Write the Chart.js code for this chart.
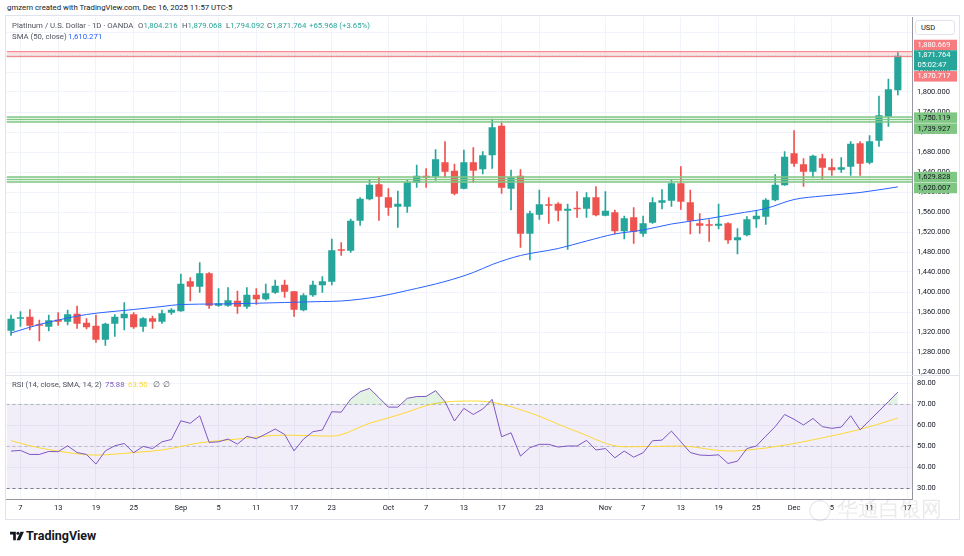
<!DOCTYPE html>
<html>
<head>
<meta charset="utf-8">
<title>Platinum / U.S. Dollar - 1D</title>
<script src="https://cdn.jsdelivr.net/npm/chart.js@4.4.1/dist/chart.umd.min.js"></script>
<style>
  html, body { margin: 0; padding: 0; background: #fff; }
  body { width: 964px; height: 556px; position: relative; overflow: hidden;
         font-family: Roboto, "Liberation Sans", Arial, sans-serif; color: #131722; }
  .abs { position: absolute; white-space: nowrap; line-height: 10px; }
  .lg { font-size: 7.8px; color: #50535e; }
  .up { color: #26a69a; }
  #frame { position: absolute; left: 5px; top: 15px; width: 955px; height: 505px;
           border: 1px solid #e0e3eb; box-sizing: border-box; }
  #sep { position: absolute; left: 5px; top: 375px; width: 955px; height: 1px; background: #e0e3eb; }
  #priceWrap { position: absolute; left: 0; top: 17px; width: 964px; height: 359px; }
  #rsiWrap { position: absolute; left: 0; top: 376px; width: 964px; height: 143px; }
  #usd { position: absolute; left: 915px; top: 20px; width: 40px; height: 15px; box-sizing: border-box;
         border: 1px solid #e0e3eb; border-radius: 3px; background: #fff; font-size: 7.5px;
         line-height: 13px; padding-left: 5px; color: #131722; }
  #logo { position: absolute; left: 10px; top: 529px; font-size: 12.5px; font-weight: bold; line-height: 14px; }
  #mark { position: absolute; left: 808px; top: 497px; color: rgba(140,140,140,0.18); font-size: 21px; line-height: 24px; }
</style>
</head>
<body>
<div id="frame"></div>
<div id="priceWrap"><canvas id="price"></canvas></div>
<div id="rsiWrap"><canvas id="rsi"></canvas></div>
<div id="sep"></div>

<div class="abs" style="left:7px; top:3px; font-size:7.8px;">gmzern created with TradingView.com, Dec 16, 2025 11:57 UTC-5</div>

<div class="abs lg" style="left:12px; top:21px;">Platinum / U.S. Dollar · 1D · OANDA</div>
<div class="abs lg" style="left:138px; top:21px;">O<span class="up">1,804.216</span></div>
<div class="abs lg" style="left:182px; top:21px;">H<span class="up">1,879.068</span></div>
<div class="abs lg" style="left:226px; top:21px;">L<span class="up">1,794.092</span></div>
<div class="abs lg" style="left:267px; top:21px;">C<span class="up">1,871.764</span></div>
<div class="abs lg up" style="left:309px; top:21px;">+65.968 (+3.65%)</div>
<div class="abs lg" style="left:12px; top:32px;">SMA (50, close)</div>
<div class="abs lg" style="left:68px; top:32px; color:#2962ff;">1,610.271</div>

<div class="abs lg" style="left:12px; top:380px;">RSI (14, close, SMA, 14, 2)</div>
<div class="abs lg" style="left:105px; top:380px; color:#7e57c2;">75.88</div>
<div class="abs lg" style="left:128px; top:380px; color:#fdd835;">63.50</div>
<div class="abs lg" style="left:153px; top:380px;">∅</div>
<div class="abs lg" style="left:163px; top:380px;">∅</div>

<div id="usd">USD</div>

<div id="logo">
  <svg width="14" height="10" viewBox="0 0 36 26" style="vertical-align:-1px; margin-right:2px;">
    <path d="M0 2h15v22H8V9H0z" fill="#131722"/>
    <circle cx="20.5" cy="6" r="4" fill="#131722"/>
    <path d="M27 2h9l-10 22h-9z" fill="#131722"/>
  </svg>TradingView
</div>
<div id="mark">◯ 华通白银网</div>

<script>
// trading days, 6 Aug - 16 Dec 2025
var dates = [
    'Aug 6', 'Aug 7', 'Aug 8', 'Aug 11', 'Aug 12', 'Aug 13', 'Aug 14', 'Aug 15', 'Aug 18', 'Aug 19',
    'Aug 20', 'Aug 21', 'Aug 22', 'Aug 25', 'Aug 26', 'Aug 27', 'Aug 28', 'Aug 29',
    'Sep 1', 'Sep 2', 'Sep 3', 'Sep 4', 'Sep 5', 'Sep 8', 'Sep 9', 'Sep 10', 'Sep 11', 'Sep 12',
    'Sep 15', 'Sep 16', 'Sep 17', 'Sep 18', 'Sep 19', 'Sep 22', 'Sep 23', 'Sep 24', 'Sep 25', 'Sep 26',
    'Sep 29', 'Sep 30',
    'Oct 1', 'Oct 2', 'Oct 3', 'Oct 6', 'Oct 7', 'Oct 8', 'Oct 9', 'Oct 10', 'Oct 13', 'Oct 14',
    'Oct 15', 'Oct 16', 'Oct 17', 'Oct 20', 'Oct 21', 'Oct 22', 'Oct 23', 'Oct 24', 'Oct 27', 'Oct 28',
    'Oct 29', 'Oct 30', 'Oct 31',
    'Nov 3', 'Nov 4', 'Nov 5', 'Nov 6', 'Nov 7', 'Nov 10', 'Nov 11', 'Nov 12', 'Nov 13', 'Nov 14',
    'Nov 17', 'Nov 18', 'Nov 19', 'Nov 20', 'Nov 21', 'Nov 24', 'Nov 25', 'Nov 26', 'Nov 27', 'Nov 28',
    'Dec 1', 'Dec 2', 'Dec 3', 'Dec 4', 'Dec 5', 'Dec 8', 'Dec 9', 'Dec 10', 'Dec 11', 'Dec 12',
    'Dec 15', 'Dec 16'
];

var opens = [
    1323, 1347, 1350, 1335, 1331, 1344, 1341, 1356, 1338, 1332, 1305, 1337, 1348, 1355, 1331, 1347, 1341, 1359,
    1362, 1421, 1411, 1437, 1373, 1373, 1382, 1371, 1394, 1386, 1399, 1414, 1401, 1364, 1394, 1414, 1421, 1485,
    1483, 1543, 1586, 1615,
    1589, 1571, 1571, 1619, 1632, 1631, 1659, 1642, 1607, 1659, 1646, 1674, 1732, 1607, 1632, 1517, 1555, 1575,
    1576, 1563, 1568, 1567, 1589,
    1553, 1559, 1522, 1549, 1517, 1539, 1579, 1583, 1617, 1579, 1537, 1534, 1533, 1537, 1504, 1514, 1546, 1551,
    1584, 1614,
    1677, 1655, 1641, 1667, 1649, 1645, 1651, 1697, 1659, 1703, 1751, 1804.216
];
var highs = [
    1354, 1361, 1365, 1344, 1354, 1359, 1364, 1372, 1347, 1354, 1338, 1355, 1379, 1359, 1349, 1352, 1364, 1367,
    1436, 1429, 1459, 1439, 1407, 1409, 1402, 1409, 1407, 1416, 1424, 1424, 1401, 1397, 1422, 1431, 1506, 1499,
    1546, 1589, 1625, 1629,
    1607, 1602, 1625, 1654, 1647, 1685, 1701, 1656, 1684, 1689, 1681, 1746, 1739, 1644, 1645, 1562, 1604, 1589,
    1579, 1576, 1601, 1599, 1611,
    1601, 1564, 1552, 1569, 1552, 1589, 1605, 1625, 1651, 1604, 1557, 1545, 1576, 1539, 1527, 1551, 1563, 1587,
    1635, 1681,
    1723, 1667, 1674, 1676, 1666, 1669, 1701, 1701, 1713, 1792, 1826, 1879.068
];
var lows = [
    1313, 1331, 1324, 1302, 1322, 1333, 1334, 1327, 1326, 1299, 1293, 1311, 1324, 1327, 1321, 1327, 1337, 1355,
    1361, 1382, 1399, 1367, 1371, 1371, 1357, 1367, 1375, 1384, 1397, 1389, 1351, 1362, 1391, 1399, 1414, 1473,
    1479, 1533, 1584, 1543,
    1553, 1529, 1559, 1609, 1609, 1623, 1629, 1594, 1606, 1619, 1636, 1647, 1597, 1564, 1489, 1464, 1545, 1537,
    1542, 1485, 1549, 1549, 1552,
    1552, 1516, 1506, 1497, 1511, 1537, 1566, 1571, 1565, 1516, 1517, 1501, 1526, 1497, 1476, 1512, 1529, 1535,
    1582, 1613,
    1651, 1611, 1629, 1625, 1633, 1639, 1633, 1633, 1656, 1691, 1731, 1794.092
];
var closes = [
    1346, 1349, 1333, 1333, 1343, 1341, 1355, 1337, 1330, 1305, 1336, 1350, 1356, 1330, 1347, 1341, 1357, 1364,
    1416, 1411, 1437, 1373, 1377, 1383, 1371, 1394, 1386, 1397, 1412, 1401, 1365, 1393, 1414, 1421, 1483, 1483,
    1542, 1586, 1614, 1591,
    1569, 1576, 1619, 1632, 1629, 1665, 1641, 1597, 1659, 1643, 1673, 1729, 1609, 1629, 1517, 1557, 1575, 1573,
    1563, 1566, 1566, 1589, 1554,
    1562, 1522, 1547, 1521, 1537, 1579, 1583, 1617, 1581, 1543, 1533, 1533, 1536, 1504, 1509, 1545, 1552, 1584,
    1614, 1670,
    1657, 1641, 1672, 1649, 1644, 1649, 1696, 1657, 1701, 1753, 1805, 1871.764
];

// SMA(50) at a few bars
var smaIdx = [0, 3, 5, 8, 13, 16, 18, 22, 29, 33, 35, 39, 42, 46, 49, 51, 54, 58, 61, 64, 67, 70, 74, 77, 80, 83, 86, 90, 94];
var smaVal = [1318, 1335, 1344, 1355, 1365, 1371, 1375, 1376, 1379, 1381, 1382, 1391, 1403, 1421, 1439, 1455, 1473,
    1487, 1502, 1516, 1524, 1536, 1547, 1557, 1567, 1585, 1592, 1599, 1610.271];

var rsi = [
    47.8, 48.1, 46.2, 46.2, 47.6, 47.5, 50.3, 47.1, 46.2, 41.6, 47.9, 50.3, 51.4, 47.0, 50.0, 49.0, 52.2, 53.3,
    62.2, 61.0, 64.6, 51.9, 52.2, 53.5, 51.1, 54.8, 53.7, 55.9, 58.3, 55.7, 47.9, 53.5, 57.0, 57.8, 66.5, 66.3,
    72.5, 76.0, 77.6, 73.2,
    68.7, 68.7, 72.9, 73.7, 73.8, 76.5, 71.3, 62.1, 68.1, 65.2, 67.8, 72.4, 54.6, 56.5, 45.4, 49.4, 51.0, 51.0,
    49.7, 50.2, 50.2, 52.9, 48.3,
    49.0, 44.6, 47.8, 44.9, 47.0, 52.7, 53.0, 57.3, 52.2, 47.1, 45.9, 45.7, 46.0, 41.9, 43.0, 49.0, 50.2, 54.9,
    59.4, 65.2,
    62.9, 60.2, 63.3, 59.4, 58.6, 59.2, 64.6, 57.9, 62.4, 66.8, 71.3, 75.88
];
var rsiMaIdx = [0, 2, 6, 9, 13, 16, 20, 24, 29, 34, 38, 41, 45, 49, 51, 55, 60, 65, 71, 76, 79, 83, 86, 90, 94];
var rsiMaVal = [52.8, 50.3, 47.1, 45.9, 47.1, 48.3, 51.7, 53.5, 55.4, 54.9, 61.0, 64.9, 70.5, 71.6, 71.0, 66.0,
    57.0, 49.8, 50.2, 47.8, 48.7, 51.4, 54.1, 58.1, 63.5];

// drawn zones (top / bottom of each box)
var zoneHigh = [1880.669, 1750.119, 1629.828];
var zoneLow = [1870.717, 1739.927, 1620.007];
var lastPrice = 1871.764;
var countdown = '05:02:47';

var priceTicks = [1240, 1280, 1320, 1360, 1400, 1440, 1480, 1520, 1560, 1600, 1640, 1680, 1720, 1760, 1800, 1840, 1880, 1920];
var rsiTicks = [30, 40, 50, 60, 70, 80];
var xTickIdx = [1, 5, 9, 13, 18, 22, 26, 30, 34, 40, 44, 48, 52, 56, 63, 67, 71, 75, 79, 83, 87, 91, 95];
var xTickText = ['7', '13', '19', '25', 'Sep', '5', '11', '17', '23', 'Oct', '7', '13', '17', '23',
    'Nov', '7', '13', '19', '25', 'Dec', '5', '11', '17'];

var UP = '#26a69a', DOWN = '#ef5350';
var FONT = 'Roboto, "Liberation Sans", Arial, sans-serif';
var xMin = -0.48, xMax = 95.5;
var gridColor = '#f0f3fa', axisColor = '#9598a1';

function fmt3(v) {
    return Number(v).toLocaleString('en-US', {minimumFractionDigits: 3, maximumFractionDigits: 3});
}

function flatLine(val, color, width, dash, fill, bg, order) {
    return {
        type: 'line',
        data: [{x: xMin, y: val}, {x: xMax, y: val}],
        borderColor: color,
        borderWidth: width,
        borderDash: dash || [],
        pointRadius: 0,
        fill: fill || false,
        backgroundColor: bg || 'transparent',
        order: order
    };
}

var candleColors = opens.map(function (o, i) { return closes[i] >= o ? UP : DOWN; });

var wickSet = {
    type: 'bar',
    data: opens.map(function (o, i) { return {x: i, y: [lows[i], highs[i]]}; }),
    backgroundColor: candleColors,
    barThickness: 1,
    grouped: false,
    order: 3
};
var bodySet = {
    type: 'bar',
    data: opens.map(function (o, i) { return {x: i, y: [Math.min(o, closes[i]), Math.max(o, closes[i])]}; }),
    backgroundColor: candleColors,
    barThickness: 6.5,
    minBarLength: 1,
    grouped: false,
    order: 2
};
var smaSet = {
    type: 'line',
    data: smaIdx.map(function (x, k) { return {x: x, y: smaVal[k]}; }),
    borderColor: '#2962ff',
    borderWidth: 1,
    pointRadius: 0,
    cubicInterpolationMode: 'monotone',
    fill: false,
    order: 1
};

var zoneSets = [];
zoneHigh.forEach(function (hi, k) {
    var red = k === 0;
    var line = red ? '#f77c80' : '#81c784';
    var bg = red ? 'rgba(247,124,128,0.22)' : 'rgba(129,199,132,0.22)';
    zoneSets.push(flatLine(hi, line, red ? 1 : 1.5, null, '+1', bg, 0));
    zoneSets.push(flatLine(zoneLow[k], line, red ? 1 : 1.5, null, false, null, 0));
    if (!red) {
        zoneSets.push(flatLine((hi + zoneLow[k]) / 2, line, 1, null, false, null, 0));
    }
});
zoneSets.push(flatLine(lastPrice, UP, 1, [1, 2], false, null, 0));

// pixel nudges so the axis badges do not overlap (as TradingView stacks them)
var highShift = [-6.7, 0.7, 0];
var lowShift = [19.7, 6.6, 6];

var badgePlugin = {
    id: 'badges',
    afterDraw: function (chart) {
        var ctx = chart.ctx, ys = chart.scales.y;
        var left = chart.chartArea.right + 2, w = 43, h = 10.5;
        ctx.save();
        ctx.font = '7.5px ' + FONT;
        ctx.textBaseline = 'middle';
        ctx.textAlign = 'left';

        function badge(val, shift, lines, bg, fg) {
            var cy = ys.getPixelForValue(val) + shift;
            var top = cy - h / 2;
            ctx.fillStyle = bg;
            ctx.fillRect(left, top, w, h * lines.length - (lines.length - 1) * 0.8);
            ctx.fillStyle = fg;
            lines.forEach(function (t, n) { ctx.fillText(t, left + 3.5, cy + n * (h - 0.8)); });
        }

        for (var k = zoneHigh.length - 1; k >= 0; k--) {
            var red = k === 0;
            var bg = red ? '#f77c80' : '#81c784';
            var fg = red ? '#ffffff' : '#131722';
            badge(zoneHigh[k], highShift[k], [fmt3(zoneHigh[k])], bg, fg);
            badge(zoneLow[k], lowShift[k], [fmt3(zoneLow[k])], bg, fg);
        }
        badge(lastPrice, -0.6, [fmt3(lastPrice), countdown], UP, '#ffffff');
        ctx.restore();
    }
};

function yAxis(min, max, ticks, fmt) {
    return {
        position: 'right',
        min: min,
        max: max,
        grid: {color: gridColor, drawTicks: false},
        border: {color: axisColor},
        ticks: {padding: 5, color: '#131722', font: {size: 7.5, family: FONT}, callback: fmt},
        afterBuildTicks: function (s) { s.ticks = ticks.map(function (v) { return {value: v}; }); },
        afterFit: function (s) { s.width = 52; s.paddingTop = 0; s.paddingBottom = 0; }
    };
}

function xAxis(showLabels) {
    return {
        type: 'linear',
        min: xMin,
        max: xMax,
        offset: false,
        grid: {color: gridColor, offset: false, drawTicks: false},
        border: {display: showLabels, color: axisColor},
        ticks: {
            display: showLabels, autoSkip: false, maxRotation: 0, padding: 5,
            color: '#131722', font: {size: 7.5, family: FONT},
            callback: function (v, i) { return xTickText[i]; }
        },
        afterBuildTicks: function (s) { s.ticks = xTickIdx.map(function (v) { return {value: v}; }); },
        afterFit: function (s) {
            s.height = showLabels ? 20 : 0;
            s.paddingLeft = 0;
            s.paddingRight = 0;
        }
    };
}

var common = {
    responsive: true,
    maintainAspectRatio: false,
    animation: false,
    events: [],
    layout: {padding: {left: 6.5, right: 0, top: 0, bottom: 0}},
    plugins: {legend: {display: false}, tooltip: {enabled: false}}
};

new Chart(document.getElementById('price'), {
    type: 'bar',
    data: {datasets: zoneSets.concat([smaSet, bodySet, wickSet])},
    options: Object.assign({}, common, {
        scales: {
            x: xAxis(false),
            y: yAxis(1232, 1950, priceTicks, function (v) { return fmt3(v); })
        }
    }),
    plugins: [badgePlugin]
});

var rsiBandTop = flatLine(70, 'rgba(120,123,134,0.55)', 1, [3, 3], '+1', 'rgba(126,87,194,0.1)', 5);
var rsiBandBottom = flatLine(30, '#787b86', 1, [3, 3], false, null, 5);
var rsiMid = flatLine(50, 'rgba(120,123,134,0.4)', 1, [3, 3], false, null, 4);

new Chart(document.getElementById('rsi'), {
    type: 'line',
    data: {
        datasets: [
            rsiBandTop, rsiBandBottom, rsiMid,
            {
                data: rsiMaIdx.map(function (x, k) { return {x: x, y: rsiMaVal[k]}; }),
                borderColor: '#fdd835',
                borderWidth: 1,
                pointRadius: 0,
                cubicInterpolationMode: 'monotone',
                fill: false,
                order: 2
            },
            {
                data: rsi.map(function (v, i) { return {x: i, y: v}; }),
                borderColor: '#7e57c2',
                borderWidth: 1,
                pointRadius: 0,
                tension: 0,
                fill: {target: {value: 70}, above: 'rgba(76,175,80,0.16)', below: 'rgba(0,0,0,0)'},
                order: 1
            }
        ]
    },
    options: Object.assign({}, common, {
        scales: {
            x: xAxis(true),
            y: yAxis(25, 83.5, rsiTicks, function (v) { return Number(v).toFixed(2); })
        }
    })
});
</script>
</body>
</html>
